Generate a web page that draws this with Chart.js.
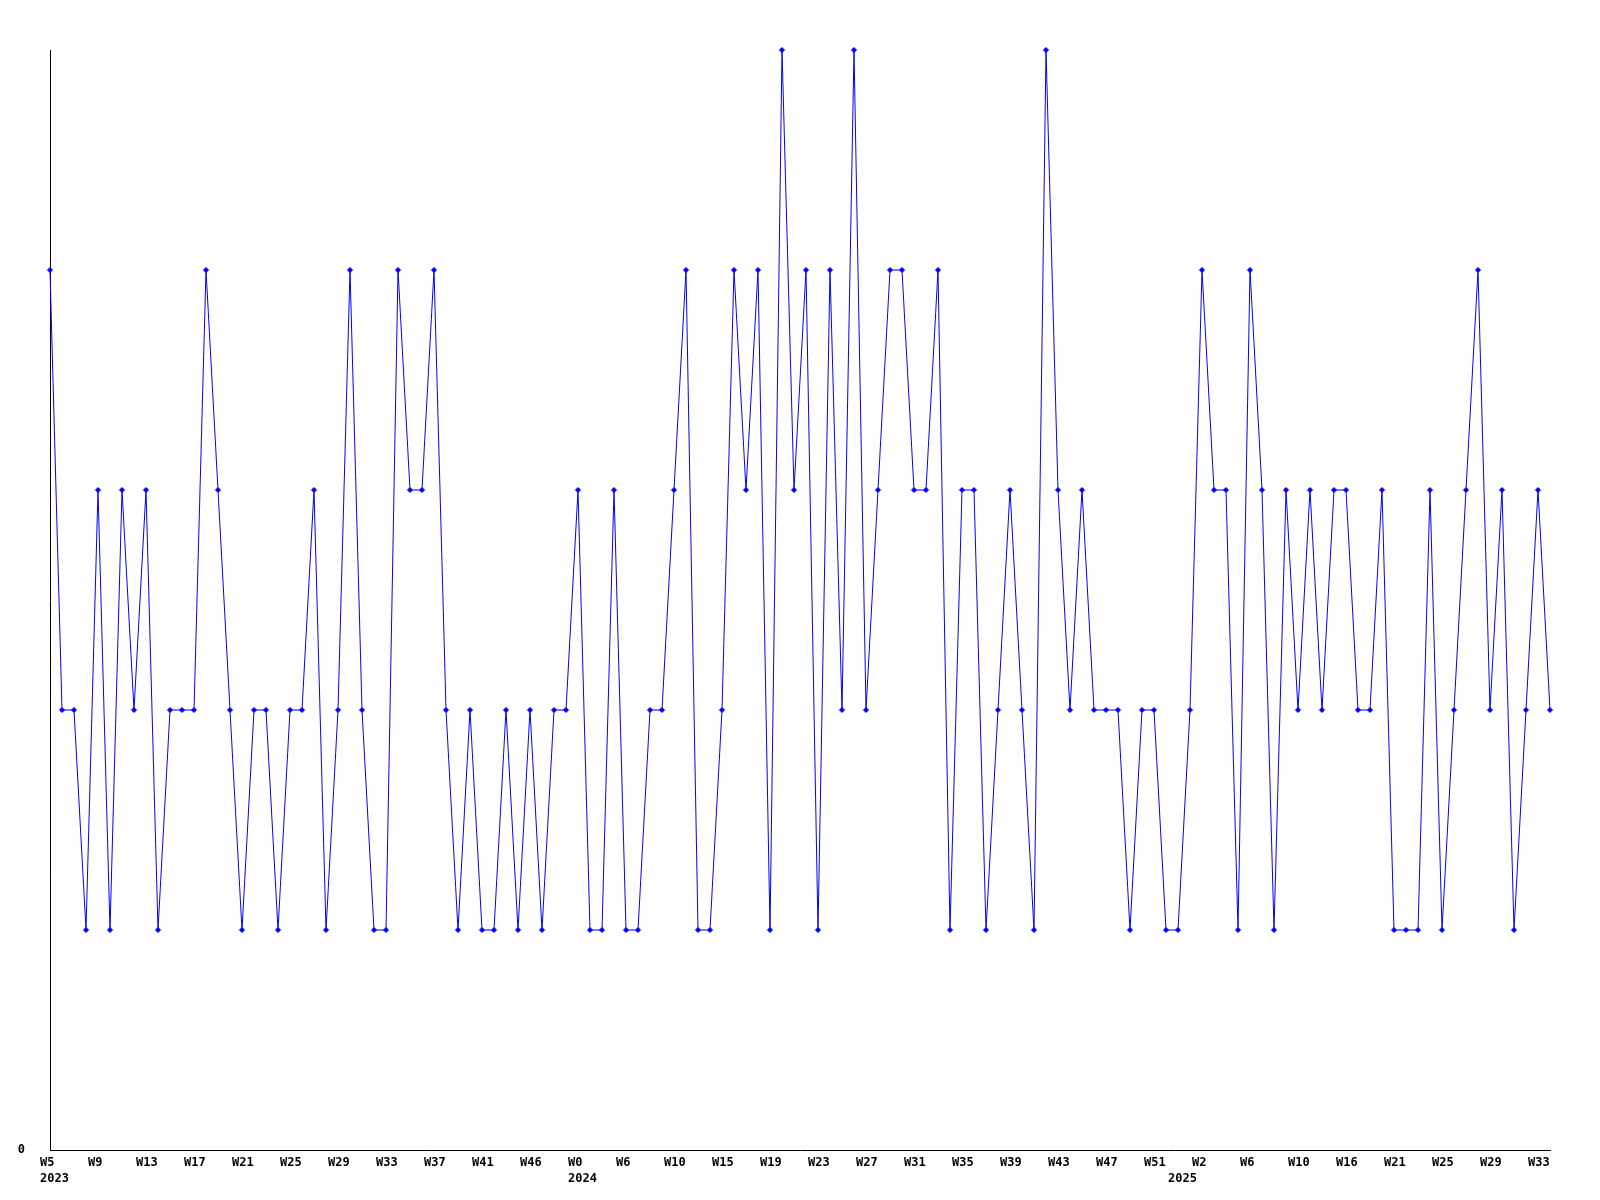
<!DOCTYPE html>
<html>
<head>
<meta charset="utf-8">
<title>Weekly count</title>
<script src="https://cdn.jsdelivr.net/npm/chart.js@4.4.1/dist/chart.umd.min.js"></script>
<style>
  html, body { margin: 0; padding: 0; background: #ffffff; }
  #wrap { width: 1600px; height: 1200px; position: relative; }
</style>
</head>
<body>
<div id="wrap"><canvas id="chart"></canvas></div>
<script>
// one value per plotted week, left to right
const values = [
  4, 2, 2, 1, 3, 1, 3, 2, 3, 1,
  2, 2, 2, 4, 3, 2, 1, 2, 2, 1,
  2, 2, 3, 1, 2, 4, 2, 1, 1, 4,
  3, 3, 4, 2, 1, 2, 1, 1, 2, 1,
  2, 1, 2, 2, 3, 1, 1, 3, 1, 1,
  2, 2, 3, 4, 1, 1, 2, 4, 3, 4,
  1, 5, 3, 4, 1, 4, 2, 5, 2, 3,
  4, 4, 3, 3, 4, 1, 3, 3, 1, 2,
  3, 2, 1, 5, 3, 2, 3, 2, 2, 2,
  1, 2, 2, 1, 1, 2, 4, 3, 3, 1,
  4, 3, 1, 3, 2, 3, 2, 3, 3, 2,
  2, 3, 1, 1, 1, 3, 1, 2, 3, 4,
  2, 3, 1, 2, 3, 2
];

// week label shown on every 4th point
const weekTicks = [
  "W5", "W9", "W13", "W17", "W21", "W25", "W29", "W33", "W37", "W41", "W46",
  "W0", "W6", "W10", "W15", "W19", "W23", "W27", "W31", "W35", "W39", "W43", "W47", "W51",
  "W2", "W6", "W10", "W16", "W21", "W25", "W29", "W33"
];
const tickEvery = 4;

// year label under the first point of each year
const years = ["2023", "2024", "2025"];
const yearStart = [0, 44, 94];

const yMin = 0;
const yMax = 5;

const FONT = { family: "'DejaVu Sans Mono', 'Liberation Mono', monospace", size: 12, weight: "bold", lineHeight: "16px" };
const LINE_COLOR = "#0000ff";

const labels = values.map((v, i) => {
  const week = i % tickEvery === 0 ? (weekTicks[i / tickEvery] ?? "") : "";
  const y = yearStart.indexOf(i);
  return [week, y >= 0 ? years[y] : ""];
});

new Chart(document.getElementById("chart"), {
  type: "line",
  data: {
    labels: labels,
    datasets: [{
      data: values,
      borderColor: LINE_COLOR,
      backgroundColor: LINE_COLOR,
      borderWidth: 1,
      tension: 0,
      fill: false,
      pointStyle: "rectRot",
      pointRadius: 2.5,
      pointBorderWidth: 1,
      pointBackgroundColor: LINE_COLOR,
      pointBorderColor: LINE_COLOR,
      clip: 6
    }]
  },
  options: {
    responsive: true,
    maintainAspectRatio: false,
    animation: false,
    events: [],
    layout: {
      padding: { top: 50, right: 50, bottom: 0, left: 0 }
    },
    plugins: {
      legend: { display: false },
      tooltip: { enabled: false },
      title: { display: false }
    },
    scales: {
      x: {
        type: "category",
        offset: false,
        grid: { display: false, drawTicks: false },
        border: { display: true, color: "#000000", width: 1 },
        ticks: {
          autoSkip: false,
          maxRotation: 0,
          minRotation: 0,
          align: "start",
          labelOffset: -10,
          padding: 5,
          color: "#000000",
          font: FONT
        },
        afterFit: (axis) => { axis.height = 50; }
      },
      y: {
        min: yMin,
        max: yMax,
        grid: { display: false, drawTicks: false },
        border: { display: true, color: "#000000", width: 1 },
        ticks: {
          stepSize: yMax,
          padding: 25,
          color: "#000000",
          font: FONT,
          callback: (value) => (value === 0 ? "0" : "")
        },
        afterFit: (axis) => { axis.width = 50; }
      }
    }
  }
});
</script>
</body>
</html>
